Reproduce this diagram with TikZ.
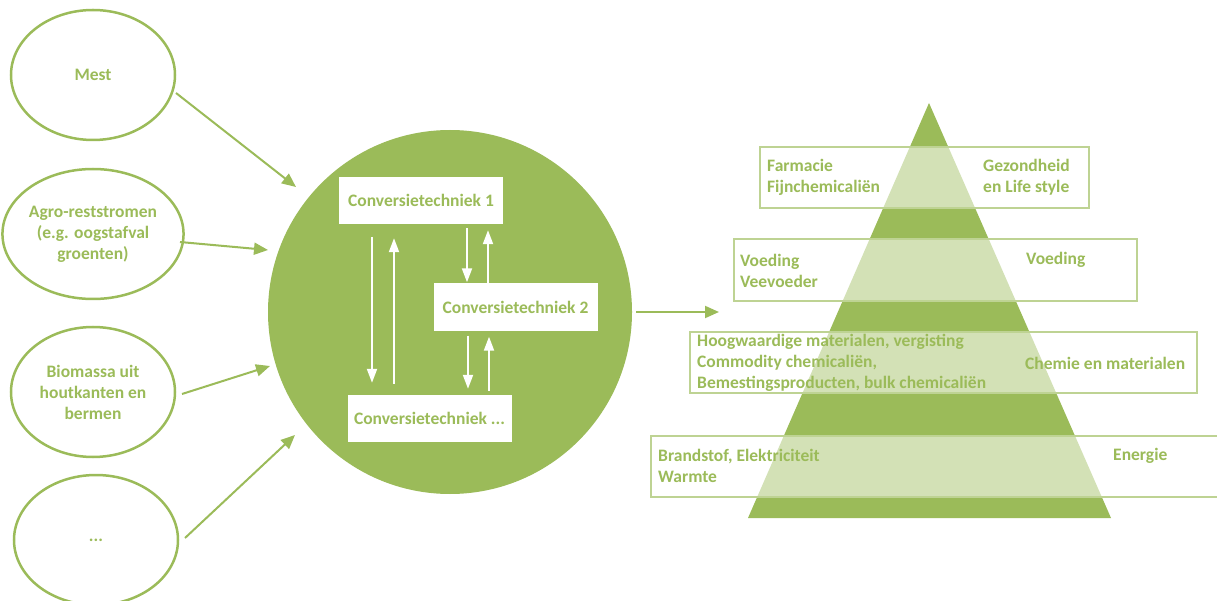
\documentclass[tikz,border=0pt]{standalone}
\usepackage{fontspec}
\setmainfont{Carlito}
\usetikzlibrary{arrows.meta,shapes.geometric}
\definecolor{g}{HTML}{9BBB59}
\begin{document}
\begin{tikzpicture}[x=1pt,y=-1pt,
  every node/.style={font=\fontsize{17.5}{21}\selectfont\bfseries, text=g},
  src/.style={ellipse, draw=g, line width=2.5pt, minimum width=164pt, minimum height=130pt, inner sep=0pt, align=center},
  gar/.style={draw=g, line width=2pt, -{Triangle[length=14pt,width=12pt]}},
  war/.style={draw=white, line width=2pt, -{Triangle[length=14pt,width=10pt]}},
  conv/.style={fill=white, minimum width=164pt, minimum height=47pt, inner sep=0pt},
  band/.style={fill=white, fill opacity=0.56, draw=g!65, draw opacity=1, line width=1.5pt},
  lab/.style={anchor=west, align=left, inner sep=0pt}
]
\useasboundingbox (0,0) rectangle (1217,601);
% sources
\node[src] (mest) at (93,75) {Mest};
\node[src] (agro) at (93,234) {Agro-reststromen\\(e.g. oogstafval\\groenten)};
\node[src] (bio) at (93,392) {Biomassa uit\\houtkanten en\\bermen};
\node[src] (dots) at (96,540) {...};
% central circle
\node[circle, fill=g, minimum size=364pt, inner sep=0pt] (circ) at (450,312) {};
\coordinate (t1) at (296,187);
\coordinate (t2) at (268,250);
\coordinate (t3) at (270,366);
\coordinate (t4) at (295,435);
\coordinate (s1) at (176,93);
\coordinate (s2) at (180,242);
\coordinate (s3) at (182,394);
\coordinate (s4) at (185,538);
\draw[gar] (s1) -- (t1);
\draw[gar] (s2) -- (t2);
\draw[gar] (s3) -- (t3);
\draw[gar] (s4) -- (t4);
% conversion boxes
\node[conv] (c1) at (421,200.5) {Conversietechniek 1};
\node[conv] (c2) at (515.5,307) {Conversietechniek 2};
\node[conv] (c3) at (429.5,418.5) {Conversietechniek ...};
\draw[war] ([xshift=-49pt,yshift=-13pt]c1.south) -- ([xshift=-57.5pt,yshift=12pt]c3.north);
\draw[war] ([xshift=-35.5pt,yshift=11pt]c3.north) -- ([xshift=-27pt,yshift=-14pt]c1.south);
\draw[war] ([xshift=46pt,yshift=-4pt]c1.south) -- ([xshift=-48.5pt,yshift=1pt]c2.north);
\draw[war] ([xshift=-27.5pt]c2.north) -- ([xshift=67pt,yshift=-6pt]c1.south);
\draw[war] ([xshift=-47.5pt,yshift=-5pt]c2.south) -- ([xshift=38.5pt,yshift=6pt]c3.north);
\draw[war] ([xshift=59.5pt,yshift=4pt]c3.north) -- ([xshift=-26.5pt,yshift=-6pt]c2.south);
% arrow to pyramid
\coordinate (pyr) at (719,312);
\draw[gar] ([xshift=4pt]circ.east) -- (pyr);
% pyramid
\fill[g] (929,103) -- (1111,518) -- (748,518) -- cycle;
% bands
\draw[band] (760,147) rectangle (1089,208);
\draw[band] (734,239) rectangle (1137,301);
\draw[band] (690,332) rectangle (1197,393);
\draw[band] (651,436) rectangle (1235,497);
% labels
\node[lab] (l1) at (767,177.5) {Farmacie\\Fijnchemicaliën};
\node[lab] (r1) at (983,177.5) {Gezondheid\\en Life style};
\node[lab] (l2) at (740,271) {Voeding\\Veevoeder};
\node[lab] (r2) at (1026,260) {Voeding};
\node[lab] (l3) at (697,362.5) {Hoogwaardige materialen, vergisting\\Commodity chemicaliën,\\Bemestingsproducten, bulk chemicaliën};
\node[lab] (r3) at (1025,363) {Chemie en materialen};
\node[lab] (l4) at (658,466) {Brandstof, Elektriciteit\\Warmte};
\node[lab] (r4) at (1113,456) {Energie};
\end{tikzpicture}
\end{document}
